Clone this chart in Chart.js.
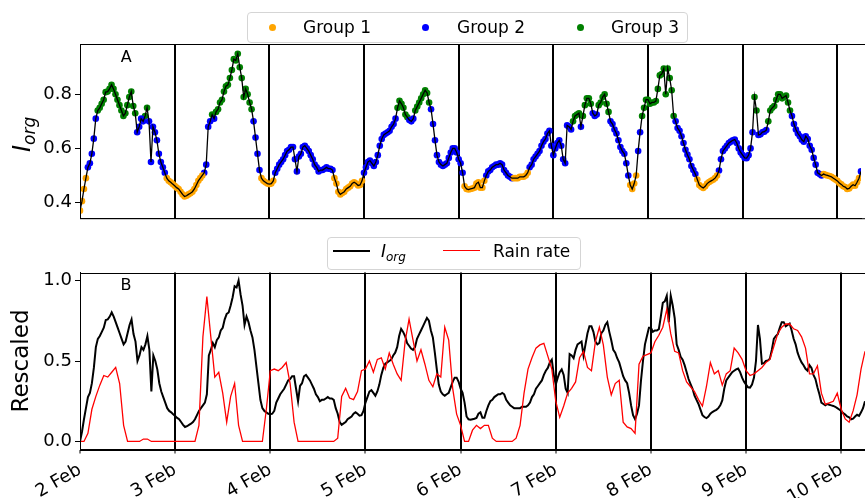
<!DOCTYPE html>
<html>
<head>
<meta charset="utf-8">
<script src="https://cdn.jsdelivr.net/npm/chart.js@4.4.1/dist/chart.umd.min.js"></script>
<style>
html,body{margin:0;padding:0;background:#fff;}
#wrap{position:relative;width:865px;height:498px;overflow:hidden;background:#fff;font-family:'DejaVu Sans',sans-serif;color:#000;}
canvas{position:absolute;left:0;}
#c1{top:0;}
#c2{top:230px;}
.box{position:absolute;border:1px solid #d5d5d5;border-radius:4px;background:rgba(255,255,255,0.85);box-sizing:border-box;}
.txt{position:absolute;font-size:17px;line-height:17px;white-space:nowrap;}
.dot{position:absolute;width:7px;height:7px;border-radius:50%;}
.seg{position:absolute;}
.panel{position:absolute;width:31px;text-align:center;font-size:16px;line-height:16px;}
sub{font-size:12px;vertical-align:-4px;font-style:italic;line-height:0;}
#ytitle{position:absolute;left:10px;top:152px;font-size:24px;line-height:24px;white-space:nowrap;transform-origin:0 0;transform:rotate(-90deg);}
#ytitle sub{font-size:17px;vertical-align:-5px;}
</style>
</head>
<body>
<div id="wrap">
  <canvas id="c1" width="865" height="232"></canvas>
  <canvas id="c2" width="865" height="268"></canvas>

  <div class="box" style="left:247px;top:12px;width:441px;height:31px;"></div>
  <div class="dot" style="left:268.5px;top:23.5px;background:#FFA500;"></div>
  <div class="txt" style="left:303px;top:18.6px;">Group 1</div>
  <div class="dot" style="left:421.5px;top:23.5px;background:#0000FF;"></div>
  <div class="txt" style="left:457px;top:18.6px;">Group 2</div>
  <div class="dot" style="left:576.5px;top:23.5px;background:#008000;"></div>
  <div class="txt" style="left:611px;top:18.6px;">Group 3</div>

  <div class="box" style="left:327px;top:237px;width:254px;height:33px;"></div>
  <div class="seg" style="left:333px;top:249.7px;width:37px;height:2px;background:#000;"></div>
  <div class="txt" style="left:381px;top:243px;"><i>I</i><sub>org</sub></div>
  <div class="seg" style="left:443px;top:250px;width:37px;height:1.4px;background:#FF0000;"></div>
  <div class="txt" style="left:493px;top:243px;">Rain rate</div>

  <div class="panel" style="left:110.8px;top:49.2px;">A</div>
  <div class="panel" style="left:110.5px;top:276.5px;">B</div>

  <div id="ytitle"><i>I</i><sub>org</sub></div>
</div>
<script>
// ---------------- data ----------------
const dayLabels = ['2 Feb','3 Feb','4 Feb','5 Feb','6 Feb','7 Feb','8 Feb','9 Feb','10 Feb'];
const dayTicks = [0,1,2,3,4,5,6,7,8];
const xMaxDays = 8.25;
const yTicksTop = [0.4, 0.6, 0.8];
const yTicksBottom = [0.0, 0.5, 1.0];
const groupNames = ['Group 1','Group 2','Group 3'];
const groupColors = ['#FFA500','#0000FF','#008000'];

// I_org every 30 min from 2 Feb 00:00
const iorgStepHours = 0.5;
const iorg = [
  0.37,0.405,0.45,0.49,0.53,0.545,0.58,0.636,0.71,0.74,0.75,0.765,0.78,0.808,0.81,0.82,0.835,0.82,0.80,0.78,0.76,0.74,0.72,0.73,
  0.76,0.79,0.81,0.757,0.73,0.66,0.68,0.71,0.70,0.72,0.75,0.70,0.55,0.68,0.66,0.63,0.58,0.55,0.53,0.51,0.49,0.48,0.475,0.468,
  0.462,0.455,0.45,0.44,0.43,0.422,0.425,0.43,0.434,0.44,0.45,0.465,0.48,0.49,0.50,0.51,0.54,0.68,0.70,0.725,0.71,0.735,0.745,0.77,
  0.78,0.81,0.83,0.835,0.86,0.89,0.93,0.925,0.95,0.90,0.86,0.79,0.82,0.80,0.77,0.745,0.70,0.64,0.58,0.52,0.49,0.48,0.475,0.47,
  0.468,0.47,0.48,0.51,0.525,0.54,0.55,0.56,0.575,0.59,0.595,0.605,0.605,0.56,0.515,0.57,0.58,0.605,0.61,0.60,0.59,0.575,0.56,0.54,
  0.53,0.515,0.52,0.52,0.525,0.53,0.525,0.525,0.52,0.49,0.47,0.44,0.43,0.435,0.44,0.45,0.455,0.46,0.47,0.475,0.47,0.463,0.465,0.48,
  0.51,0.53,0.55,0.555,0.545,0.535,0.55,0.575,0.61,0.635,0.65,0.655,0.66,0.665,0.68,0.69,0.71,0.75,0.776,0.765,0.75,0.725,0.715,0.705,
  0.70,0.71,0.74,0.755,0.77,0.785,0.80,0.815,0.805,0.77,0.745,0.69,0.63,0.575,0.55,0.54,0.535,0.54,0.545,0.565,0.585,0.60,0.60,0.585,
  0.56,0.545,0.51,0.46,0.45,0.448,0.45,0.452,0.455,0.47,0.475,0.455,0.455,0.48,0.50,0.515,0.52,0.53,0.535,0.54,0.54,0.545,0.54,0.52,
  0.51,0.50,0.495,0.49,0.49,0.49,0.49,0.495,0.495,0.495,0.50,0.51,0.53,0.54,0.56,0.57,0.58,0.59,0.61,0.625,0.635,0.655,0.665,0.61,
  0.575,0.60,0.62,0.63,0.61,0.56,0.545,0.685,0.68,0.67,0.70,0.72,0.725,0.73,0.68,0.72,0.76,0.785,0.785,0.765,0.73,0.72,0.725,0.76,
  0.77,0.79,0.80,0.765,0.735,0.70,0.69,0.67,0.655,0.63,0.605,0.59,0.58,0.545,0.50,0.465,0.45,0.47,0.50,0.59,0.66,0.72,0.75,0.78,
  0.78,0.765,0.77,0.77,0.775,0.82,0.87,0.875,0.895,0.80,0.895,0.86,0.815,0.72,0.70,0.675,0.665,0.645,0.62,0.595,0.577,0.56,0.535,0.52,
  0.505,0.485,0.465,0.458,0.454,0.46,0.47,0.476,0.48,0.484,0.49,0.50,0.518,0.56,0.59,0.60,0.61,0.62,0.625,0.63,0.633,0.62,0.60,0.585,
  0.575,0.565,0.564,0.575,0.60,0.66,0.79,0.74,0.65,0.652,0.66,0.662,0.668,0.70,0.74,0.75,0.757,0.78,0.80,0.80,0.785,0.79,0.795,0.77,
  0.74,0.72,0.69,0.67,0.655,0.645,0.632,0.625,0.645,0.635,0.61,0.595,0.565,0.54,0.51,0.505,0.50,0.505,0.502,0.50,0.498,0.495,0.49,0.485,
  0.48,0.472,0.467,0.46,0.457,0.45,0.452,0.46,0.466,0.462,0.475,0.49,0.515
];

// group (1, 2 or 3) of each 30-min point
const groupOf = [
  1,1,1,1,2,2,2,2,2,3,3,3,3,3,3,3,3,3,3,3,3,3,3,3,
  3,3,3,3,3,2,2,2,2,3,3,2,2,2,2,2,2,2,2,2,1,1,1,1,
  1,1,1,1,1,1,1,1,1,1,1,1,1,1,1,2,2,2,2,3,2,3,3,3,
  3,3,3,3,3,3,3,3,3,3,3,3,3,3,3,3,2,2,2,2,1,1,1,1,
  1,1,1,2,2,2,2,2,2,2,2,2,2,2,2,2,2,2,2,2,2,2,2,2,
  2,2,2,2,2,2,2,2,2,1,1,1,1,1,1,1,1,1,1,1,1,1,1,1,
  2,2,2,2,2,2,2,2,2,2,2,2,2,2,2,2,2,3,3,3,3,3,3,2,
  2,2,3,3,3,3,3,3,3,3,2,2,2,2,2,2,2,2,2,2,2,2,2,2,
  2,2,2,1,1,1,1,1,1,1,1,1,1,1,2,2,2,2,2,2,2,2,2,2,
  2,2,2,2,1,1,1,1,1,1,1,1,2,2,2,2,2,2,2,2,2,2,2,2,
  2,2,2,2,2,2,2,2,2,2,3,3,3,3,2,3,3,3,3,3,2,2,2,3,
  3,3,3,3,3,2,2,2,2,2,2,2,2,2,2,1,1,1,1,2,2,3,3,3,
  3,3,3,3,3,3,3,3,3,3,3,3,3,3,2,2,2,2,2,2,2,2,2,2,
  2,1,1,1,1,1,1,1,1,1,1,1,2,2,2,2,2,2,2,2,2,2,2,2,
  2,2,2,2,2,2,3,3,2,2,2,2,2,3,3,3,3,3,3,3,3,3,3,3,
  3,2,2,2,2,2,2,2,2,2,2,2,2,2,2,2,2,1,1,1,1,1,1,1,
  1,1,1,1,1,1,1,1,1,1,1,1,2
];

// rescaled rain rate, hourly from 2 Feb 00:00
const rainStepHours = 1;
const rainRate = [
  0,0,0.05,0.2,0.28,0.35,0.41,0.40,0.43,0.46,0.36,0.1,0,0,0,0,0.015,0.015,0,0,0,0,0,0,
  0,0,0,0,0,0,0.1,0.65,0.9,0.65,0.4,0.43,0.3,0.12,0.28,0.36,0.1,0,0,0,0,0,0,0.2,
  0.44,0.45,0.44,0.46,0.49,0.36,0.12,0,0,0,0,0,0,0,0,0,0,0.02,0.28,0.33,0.27,0.26,0.31,0.44,
  0.45,0.50,0.43,0.51,0.52,0.45,0.55,0.48,0.42,0.38,0.62,0.76,0.63,0.50,0.57,0.48,0.38,0.34,0.42,0.40,0.71,0.63,0.33,0.17,
  0.10,0,0,0.07,0.1,0.08,0.1,0.1,0.02,0,0,0,0,0,0.02,0.1,0.3,0.45,0.52,0.58,0.6,0.61,0.53,0.45,
  0.25,0.15,0.22,0.30,0.33,0.37,0.52,0.56,0.46,0.44,0.62,0.71,0.6,0.4,0.29,0.36,0.38,0.12,0.09,0.08,0.05,0.48,0.53,0.54,
  0.55,0.62,0.66,0.71,0.82,0.67,0.56,0.55,0.44,0.37,0.34,0.31,0.26,0.22,0.34,0.49,0.42,0.44,0.35,0.42,0.44,0.58,0.55,0.51,
  0.44,0.41,0.42,0.44,0.46,0.49,0.51,0.59,0.67,0.71,0.73,0.73,0.70,0.69,0.65,0.58,0.42,0.42,0.47,0.30,0.23,0.24,0.25,0.30,
  0.20,0.14,0.12,0.19,0.29,0.45,0.56
];

// ---------------- chart ----------------
Chart.defaults.font.family = "'DejaVu Sans', sans-serif";
Chart.defaults.color = '#000';

const toDays = (i, step) => i * step / 24;
const iMin = Math.min(...iorg), iMax = Math.max(...iorg);
const iorgRescaled = iorg.map(v => (v - iMin) / (iMax - iMin));

const dayLineColor = c => (c.tick && c.tick.value > 0) ? '#000' : 'rgba(0,0,0,0)';

const framePlugin = {
  id: 'frame',
  afterDraw(chart) {
    const a = chart.chartArea, ctx = chart.ctx;
    ctx.save();
    ctx.strokeStyle = '#000';
    ctx.lineWidth = 1;
    ctx.strokeRect(Math.round(a.left) + 0.5, Math.round(a.top) + 0.5, a.right - a.left + 5, a.bottom - a.top);
    ctx.restore();
  }
};

const commonOpts = {
  responsive: false,
  animation: false,
  devicePixelRatio: 1,
  plugins: { legend: { display: false }, tooltip: { enabled: false } },
  elements: { line: { tension: 0 } }
};

new Chart(document.getElementById('c1'), {
  type: 'scatter',
  data: {
    datasets: [
      { type: 'line', label: 'I_org', data: iorg.map((v, i) => ({ x: toDays(i, iorgStepHours), y: v })),
        borderColor: '#000', borderWidth: 1.3, pointRadius: 0, order: 0 },
      ...groupNames.map((n, g) => ({
        label: n,
        data: iorg.map((v, i) => groupOf[i] === g + 1 ? { x: toDays(i, iorgStepHours), y: v } : null).filter(Boolean),
        backgroundColor: groupColors[g], borderWidth: 0, pointRadius: 3.3, order: 1
      }))
    ]
  },
  options: {
    ...commonOpts,
    layout: { padding: { top: 44, left: 0, right: 0, bottom: 0 } },
    scales: {
      x: {
        type: 'linear', min: 0, max: xMaxDays, z: 1,
        afterBuildTicks: s => { s.ticks = dayTicks.map(v => ({ value: v })); },
        afterFit: s => { s.height = 11; },
        grid: { drawOnChartArea: true, drawTicks: false, color: dayLineColor, lineWidth: 2 },
        border: { display: true, color: '#000', width: 1 },
        ticks: { display: false }
      },
      y: {
        min: 0.342, max: 0.986,
        afterBuildTicks: s => { s.ticks = yTicksTop.map(v => ({ value: v })); },
        afterFit: s => { s.width = 80; },
        grid: { drawOnChartArea: false, drawTicks: true, tickLength: 5, color: '#000', tickWidth: 1 },
        border: { display: true, color: '#000', width: 1 },
        ticks: { padding: 3, font: { size: 18 }, color: '#000', callback: v => Number(v).toFixed(1) }
      }
    }
  },
  plugins: [framePlugin]
});

new Chart(document.getElementById('c2'), {
  type: 'line',
  data: {
    datasets: [
      { label: 'Rain rate', data: rainRate.map((v, i) => ({ x: toDays(i, rainStepHours), y: v })),
        borderColor: '#FF0000', borderWidth: 1.3, pointRadius: 0, order: 0 },
      { label: 'I_org', data: iorgRescaled.map((v, i) => ({ x: toDays(i, iorgStepHours), y: v })),
        borderColor: '#000', borderWidth: 2, pointRadius: 0, order: 1 }
    ]
  },
  options: {
    ...commonOpts,
    layout: { padding: { top: 42.5, left: 0, right: 0, bottom: 0 } },
    scales: {
      x: {
        type: 'linear', min: 0, max: xMaxDays, z: 1,
        afterBuildTicks: s => { s.ticks = dayTicks.map(v => ({ value: v })); },
        afterFit: s => { s.height = 48.5; },
        grid: { drawOnChartArea: true, drawTicks: true, tickLength: 4, color: dayLineColor, lineWidth: 2, tickColor: '#000', tickWidth: 1 },
        border: { display: true, color: '#000', width: 1 },
        ticks: { autoSkip: false, minRotation: 30, maxRotation: 30, padding: 6, font: { size: 18 }, color: '#000',
                 callback: (v, i) => dayLabels[i] }
      },
      y: {
        min: -0.05, max: 1.05,
        afterBuildTicks: s => { s.ticks = yTicksBottom.map(v => ({ value: v })); },
        afterFit: s => { s.width = 80; },
        grid: { drawOnChartArea: false, drawTicks: true, tickLength: 5, color: '#000', tickWidth: 1 },
        border: { display: true, color: '#000', width: 1 },
        title: { display: true, text: 'Rescaled', font: { size: 23 }, color: '#000', padding: { top: 8, bottom: 0 } },
        ticks: { padding: 3, font: { size: 18 }, color: '#000', callback: v => Number(v).toFixed(1) }
      }
    }
  },
  plugins: [framePlugin]
});
</script>
</body>
</html>
